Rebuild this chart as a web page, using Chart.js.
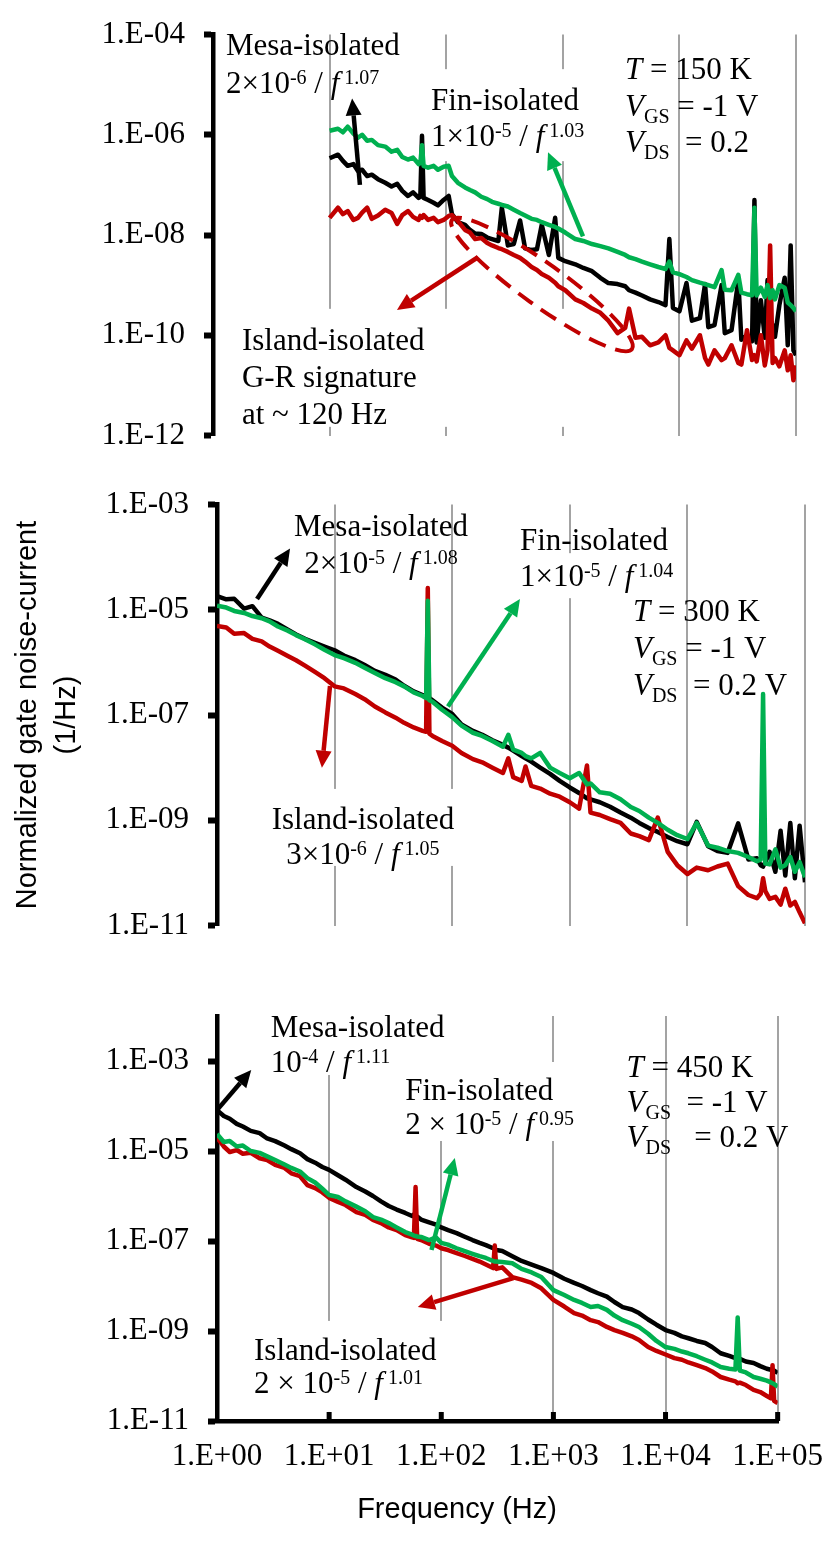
<!DOCTYPE html>
<html>
<head>
<meta charset="utf-8">
<title>Normalized gate noise-current spectra</title>
<script src="https://cdn.jsdelivr.net/npm/chart.js"></script>
<style>
  body { margin: 0; background: #fff; }
  #fig { position: relative; width: 840px; height: 1550px; }
  #fig canvas { position: absolute; left: 0; }
</style>
</head>
<body>
<div id="fig">
  <canvas id="k150" width="840" height="470" style="top:0"></canvas>
  <canvas id="k300" width="840" height="490" style="top:470px"></canvas>
  <canvas id="k450" width="840" height="590" style="top:960px"></canvas>
</div>
<script>
// tick values
const freqTicks = [1, 10, 100, 1000, 10000, 100000]
const yTicks150 = [1e-12, 1e-10, 1e-8, 1e-6, 1e-4]
const yTicks300 = [1e-11, 1e-9, 1e-7, 1e-5, 1e-3]
const yTicks450 = [1e-11, 1e-9, 1e-7, 1e-5, 1e-3]

// T = 150 K  (measured from 10 Hz)
const freq150 = [10, 11.8, 13, 14.3, 16, 17.5, 19, 21, 23, 26, 30, 34, 38, 42, 47, 52, 58, 60, 62, 64,
  70, 78, 85, 95, 105, 112, 126, 145, 160, 177, 200, 225, 247, 280, 300, 338, 380, 430, 475, 540,
  600, 660, 760, 860, 915, 1050, 1280, 1500, 1780, 2100, 2460, 2950, 3430, 3700, 4200, 4780, 5600, 6600, 7600, 8200,
  8800, 10000, 11500, 12800, 15000, 16600, 17700, 20000, 23000, 24500, 28000, 32000, 34000, 38000, 42000, 44000, 46000, 50000, 54000, 57000,
  60000, 63000, 66000, 72000, 80000, 85000, 90000, 95000, 100000]
const mesa150 = [3.4e-7, 4.0e-7, 3.0e-7, 2.4e-7, 2.6e-7, 1.9e-7, 2.0e-7, 1.5e-7, 1.6e-7, 1.3e-7,
  1.1e-7, 9.3e-8, 1.05e-7, 7.6e-8, 6.0e-8, 7.1e-8, 5.5e-8, 5.8e-8, 9.5e-7, 5.5e-8,
  5.0e-8, 4.4e-8, 3.9e-8, 5.0e-8, 6.0e-8, 2.6e-8, 1.8e-8, 1.6e-8, 1.26e-8, 1.07e-8,
  1.05e-8, 8.9e-9, 8.3e-9, 7.6e-9, 3.5e-8, 6.2e-9, 6.6e-9, 1.95e-8, 5.4e-9, 5.0e-9,
  5.2e-9, 1.6e-8, 4.0e-9, 2.2e-8, 3.5e-9, 3.0e-9, 2.6e-9, 2.2e-9, 1.9e-9, 1.4e-9,
  1.1e-9, 1.05e-9, 9.5e-10, 7.9e-10, 7.1e-10, 6.2e-10, 5.2e-10, 4.6e-10, 4.0e-10, 8.3e-9,
  3.5e-10, 3.0e-10, 1.1e-9, 1.95e-10, 2.2e-10, 1.05e-9, 1.45e-10, 1.6e-10, 1.0e-9, 1.1e-10,
  1.26e-10, 1.26e-9, 8.1e-11, 1.0e-10, 7.6e-11, 5.0e-8, 7.2e-11, 5.0e-10, 8.9e-11, 1.26e-9,
  1.0e-10, 1.6e-10, 9.3e-11, 4.0e-10, 1.4e-9, 6.3e-11, 6.2e-9, 5.0e-11, 4.0e-11]
const fin150 = [1.2e-6, 1.32e-6, 1.12e-6, 1.45e-6, 1.05e-6, 8.7e-7, 1.0e-6, 7.6e-7, 7.9e-7, 6.2e-7,
  5.8e-7, 4.6e-7, 5.0e-7, 3.6e-7, 3.2e-7, 3.5e-7, 2.6e-7, 2.75e-7, 6.2e-7, 2.4e-7,
  2.2e-7, 2.4e-7, 2.0e-7, 2.3e-7, 2.4e-7, 1.5e-7, 1.1e-7, 8.9e-8, 7.9e-8, 7.1e-8,
  5.8e-8, 5.2e-8, 4.6e-8, 4.2e-8, 4.0e-8, 3.7e-8, 3.2e-8, 2.75e-8, 2.45e-8, 2.1e-8,
  2.0e-8, 1.8e-8, 1.6e-8, 1.45e-8, 1.35e-8, 1.12e-8, 8.3e-9, 7.6e-9, 6.6e-9, 6.0e-9,
  5.4e-9, 4.6e-9, 4.0e-9, 3.6e-9, 3.3e-9, 2.95e-9, 2.6e-9, 2.3e-9, 2.1e-9, 2.95e-9,
  1.8e-9, 1.66e-9, 1.45e-9, 1.26e-9, 1.12e-9, 1.05e-9, 1.0e-9, 9.1e-10, 2.0e-9, 8.1e-10,
  7.9e-10, 1.6e-9, 7.1e-10, 6.6e-10, 6.3e-10, 3.5e-8, 6.2e-10, 8.9e-10, 5.8e-10, 1.0e-9,
  5.5e-10, 7.9e-10, 5.2e-10, 1.0e-9, 8.9e-10, 4.5e-10, 4.0e-10, 3.5e-10, 3.0e-10]
const island150 = [2.2e-8, 3.5e-8, 2.6e-8, 3.0e-8, 2.0e-8, 2.2e-8, 2.8e-8, 3.5e-8, 2.1e-8, 2.45e-8,
  3.2e-8, 2.75e-8, 1.66e-8, 2.5e-8, 3.0e-8, 2.3e-8, 2.0e-8, 2.4e-8, 2.2e-8, 2.5e-8,
  2.0e-8, 2.2e-8, 1.8e-8, 2.0e-8, 2.4e-8, 2.5e-8, 1.9e-8, 1.26e-8, 1.12e-8, 8.3e-9,
  8.7e-9, 6.9e-9, 6.2e-9, 5.5e-9, 5.2e-9, 4.6e-9, 4.0e-9, 3.5e-9, 2.95e-9, 2.3e-9,
  2.0e-9, 1.66e-9, 1.4e-9, 1.12e-9, 9.5e-10, 7.9e-10, 5.2e-10, 4.4e-10, 3.4e-10, 2.8e-10,
  1.95e-10, 1.1e-10, 1.4e-10, 3.4e-10, 8.9e-11, 9.3e-11, 6.3e-11, 7.2e-11, 1.0e-10, 5.6e-11,
  5.0e-11, 4.0e-11, 7.9e-11, 5.4e-11, 1.0e-10, 3.5e-11, 2.6e-11, 5.0e-11, 3.2e-11, 3.5e-11,
  6.3e-11, 2.8e-11, 2.6e-11, 1.26e-10, 3.2e-11, 4.0e-11, 3.0e-11, 1.0e-10, 2.5e-11, 5.0e-11,
  6.2e-9, 2.8e-11, 3.5e-11, 2.4e-11, 5.0e-11, 2.0e-11, 4.0e-11, 1.26e-11, 2.5e-11]

// T = 300 K
const freq300 = [1, 1.2, 1.4, 1.7, 2, 2.4, 2.8, 3.3, 4, 4.7, 5.6, 6.8, 8.2, 10, 12, 15, 18, 22, 27, 33,
  39, 47, 56, 60, 62, 64, 68, 82, 100, 120, 150, 180, 220, 270, 300, 330, 390, 420, 470, 560,
  680, 820, 1000, 1200, 1400, 1500, 1800, 2200, 2700, 3300, 3900, 4700, 5600, 6800, 8200, 10000, 12000, 15000, 18000, 22000,
  27000, 33000, 39000, 42000, 44000, 46000, 50000, 56000, 62000, 68000, 75000, 82000, 90000, 100000]
const mesa300 = [1.82e-5, 1.58e-5, 1.62e-5, 1.05e-5, 1.17e-5, 7.1e-6, 6.3e-6, 5.4e-6, 4.2e-6, 3.4e-6,
  2.8e-6, 2.35e-6, 2.0e-6, 1.7e-6, 1.35e-6, 1.1e-6, 8.9e-7, 6.9e-7, 5.8e-7, 4.7e-7,
  3.6e-7, 2.8e-7, 2.4e-7, 2.25e-7, 2.2e-7, 2.1e-7, 1.9e-7, 1.38e-7, 1.05e-7, 6.6e-8,
  5.0e-8, 4.2e-8, 3.3e-8, 2.7e-8, 2.4e-8, 2.1e-8, 1.66e-8, 1.5e-8, 1.3e-8, 1.0e-8,
  7.6e-9, 5.6e-9, 4.2e-9, 3.3e-9, 2.6e-9, 2.5e-9, 2.2e-9, 1.8e-9, 1.4e-9, 1.12e-9,
  8.9e-10, 7.1e-10, 6.0e-10, 4.8e-10, 4.0e-10, 3.5e-10, 9.3e-10, 3.2e-10, 2.6e-10, 2.4e-10,
  8.7e-10, 1.8e-10, 1.9e-10, 1.4e-10, 1.32e-10, 1.6e-10, 2.5e-10, 1.05e-10, 6.3e-10, 8.9e-11,
  8.9e-10, 7.9e-11, 7.9e-10, 6.6e-11]
const fin300 = [1.2e-5, 1.1e-5, 9.5e-6, 8.7e-6, 7.6e-6, 6.9e-6, 6.0e-6, 4.8e-6, 4.0e-6, 3.3e-6,
  2.75e-6, 2.2e-6, 1.74e-6, 1.38e-6, 1.2e-6, 9.8e-7, 7.9e-7, 6.3e-7, 5.0e-7, 4.2e-7,
  3.5e-7, 2.7e-7, 2.3e-7, 2.1e-7, 1.48e-5, 1.9e-7, 1.78e-7, 1.26e-7, 9.1e-8, 6.3e-8,
  4.6e-8, 4.0e-8, 3.2e-8, 2.5e-8, 4.2e-8, 2.2e-8, 1.9e-8, 1.66e-8, 1.5e-8, 1.9e-8,
  1.0e-8, 7.9e-9, 6.3e-9, 7.9e-9, 4.8e-9, 5.0e-9, 3.4e-9, 3.2e-9, 2.5e-9, 1.78e-9,
  1.5e-9, 1.12e-9, 8.9e-10, 6.6e-10, 5.2e-10, 4.4e-10, 8.9e-10, 3.3e-10, 3.0e-10, 2.6e-10,
  2.4e-10, 2.0e-10, 1.66e-10, 1.78e-10, 2.5e-7, 1.5e-10, 1.45e-10, 2.8e-10, 1.26e-10, 1.4e-10,
  2.0e-10, 1.05e-10, 1.6e-10, 8.3e-11]
const island300 = [4.9e-6, 4.6e-6, 3.5e-6, 3.6e-6, 2.8e-6, 2.5e-6, 2.0e-6, 1.66e-6, 1.32e-6, 1.1e-6,
  8.7e-7, 6.6e-7, 5.0e-7, 3.5e-7, 3.2e-7, 2.5e-7, 2.0e-7, 1.45e-7, 1.12e-7, 8.9e-8,
  7.1e-8, 5.8e-8, 5.0e-8, 4.8e-8, 2.6e-5, 4.4e-8, 4.0e-8, 3.2e-8, 2.6e-8, 1.9e-8,
  1.45e-8, 1.26e-8, 1.0e-8, 7.9e-9, 1.5e-8, 6.6e-9, 5.6e-9, 1.05e-8, 4.5e-9, 4.0e-9,
  3.2e-9, 2.8e-9, 2.2e-9, 1.66e-9, 1.1e-8, 1.4e-9, 1.26e-9, 1.05e-9, 8.9e-10, 5.6e-10,
  5.0e-10, 4.2e-10, 1.12e-9, 2.5e-10, 1.4e-10, 9.5e-11, 1.26e-10, 1.12e-10, 1.32e-10, 1.5e-10,
  5.6e-11, 3.8e-11, 3.3e-11, 4.0e-11, 7.9e-11, 4.5e-11, 3.2e-11, 3.5e-11, 2.5e-11, 5.0e-11,
  2.4e-11, 2.8e-11, 1.78e-11, 1.1e-11]

// T = 450 K
const freq450 = [1, 1.15, 1.3, 1.5, 1.7, 2, 2.4, 2.8, 3.3, 4, 4.6, 5.5, 6.4, 7.5, 8.7, 10, 12, 14, 17.5, 21,
  24.6, 29, 34, 40, 47.7, 55, 57, 59, 61, 66, 78, 90, 100, 115, 137, 160, 190, 220, 250, 290,
  300, 310, 350, 430, 520, 640, 780, 1000, 1250, 1530, 1800, 2150, 2500, 3000, 3500, 4150, 5000, 5800, 7000, 8300,
  10000, 12000, 14000, 16000, 19000, 22600, 26000, 31000, 37000, 42000, 44000, 46000, 52000, 61000, 70000, 80000, 87000, 90000, 93000, 100000]
const mesa450 = [8.1e-5, 6.0e-5, 5.2e-5, 4.0e-5, 3.5e-5, 2.8e-5, 2.5e-5, 1.9e-5, 1.66e-5, 1.32e-5,
  1.1e-5, 8.9e-6, 6.6e-6, 5.5e-6, 4.4e-6, 3.8e-6, 2.9e-6, 2.3e-6, 1.58e-6, 1.26e-6,
  1.0e-6, 7.6e-7, 6.0e-7, 5.0e-7, 4.2e-7, 3.6e-7, 3.9e-7, 3.4e-7, 3.5e-7, 3.0e-7,
  2.6e-7, 2.3e-7, 2.0e-7, 1.74e-7, 1.5e-7, 1.26e-7, 1.05e-7, 9.1e-8, 8.1e-8, 6.9e-8,
  6.6e-8, 6.3e-8, 6.0e-8, 4.6e-8, 3.6e-8, 3.0e-8, 2.5e-8, 1.95e-8, 1.45e-8, 1.17e-8,
  1.0e-8, 8.1e-9, 6.9e-9, 5.8e-9, 4.4e-9, 3.4e-9, 3.0e-9, 2.5e-9, 1.8e-9, 1.38e-9,
  1.05e-9, 9.1e-10, 7.6e-10, 6.9e-10, 6.0e-10, 5.4e-10, 4.4e-10, 3.2e-10, 2.8e-10, 2.5e-10,
  2.3e-10, 2.4e-10, 2.1e-10, 1.95e-10, 1.66e-10, 1.45e-10, 1.38e-10, 1.35e-10, 1.32e-10, 1.17e-10]
const fin450 = [2.4e-5, 1.58e-5, 1.66e-5, 1.26e-5, 1.32e-5, 1.0e-5, 9.1e-6, 7.6e-6, 6.3e-6, 5.0e-6,
  4.2e-6, 3.5e-6, 2.5e-6, 2.0e-6, 1.45e-6, 1.05e-6, 9.5e-7, 7.6e-7, 5.8e-7, 4.6e-7,
  3.4e-7, 3.0e-7, 2.5e-7, 2.0e-7, 1.58e-7, 1.38e-7, 1.32e-7, 1.29e-7, 1.26e-7, 1.23e-7,
  1.05e-7, 1.2e-7, 9.1e-8, 8.3e-8, 6.9e-8, 6.0e-8, 5.2e-8, 4.6e-8, 4.2e-8, 3.6e-8,
  3.5e-8, 3.5e-8, 3.4e-8, 3.2e-8, 2.4e-8, 2.0e-8, 1.58e-8, 8.1e-9, 6.3e-9, 4.9e-9,
  4.2e-9, 3.4e-9, 3.6e-9, 2.95e-9, 2.2e-9, 1.74e-9, 1.45e-9, 1.23e-9, 8.7e-10, 6.0e-10,
  4.4e-10, 4.0e-10, 3.5e-10, 3.2e-10, 2.75e-10, 2.3e-10, 2.0e-10, 1.58e-10, 1.45e-10, 1.4e-10,
  2.0e-9, 1.32e-10, 1.2e-10, 9.5e-11, 8.7e-11, 7.9e-11, 7.2e-11, 6.9e-11, 6.6e-11, 5.8e-11]
const island450 = [2.0e-5, 1.26e-5, 9.5e-6, 1.05e-5, 8.7e-6, 9.1e-6, 6.9e-6, 6.3e-6, 4.9e-6, 4.2e-6,
  3.2e-6, 2.75e-6, 1.74e-6, 1.5e-6, 1.2e-6, 9.1e-7, 7.4e-7, 6.3e-7, 4.4e-7, 3.8e-7,
  2.95e-7, 2.5e-7, 2.0e-7, 1.74e-7, 1.35e-7, 1.2e-7, 1.17e-7, 1.58e-6, 1.12e-7, 1.05e-7,
  8.7e-8, 7.9e-8, 6.9e-8, 6.3e-8, 5.4e-8, 4.7e-8, 4.0e-8, 3.5e-8, 3.0e-8, 2.5e-8,
  7.9e-8, 2.4e-8, 2.6e-8, 1.58e-8, 1.38e-8, 1.17e-8, 8.9e-9, 4.9e-9, 3.5e-9, 2.5e-9,
  2.2e-9, 1.74e-9, 1.58e-9, 1.23e-9, 1.05e-9, 9.1e-10, 7.6e-10, 6.3e-10, 4.4e-10, 3.6e-10,
  3.0e-10, 2.5e-10, 2.3e-10, 2.0e-10, 1.74e-10, 1.5e-10, 1.26e-10, 9.5e-11, 8.3e-11, 7.6e-11,
  6.9e-11, 7.1e-11, 6.3e-11, 4.9e-11, 4.4e-11, 3.6e-11, 3.2e-11, 1.74e-10, 2.8e-11, 2.5e-11]

const serif = '"Liberation Serif", "Times New Roman", serif'
const sans = '"Liberation Sans", Arial, sans-serif'
const black = '#000000', green = '#00b050', red = '#c00000'

const sci = v => {
  const e = Math.round(Math.log10(v))
  return '1.E' + (e < 0 ? '-' : '+') + String(Math.abs(e)).padStart(2, '0')
}

// ---- text / arrow annotations ----
const fontOf = k => {
  if (k === 'i') return 'italic 31px ' + serif
  if (k === 'sup' || k === 'sub') return '20px ' + serif
  return '31px ' + serif
}
const measure = (ctx, segs) => segs.reduce((w, [s, k]) => { ctx.font = fontOf(k); return w + ctx.measureText(s).width }, 0)

function place(chart, t) {
  const { ctx, scales: { x, y } } = chart
  const px = x.getPixelForValue(t.at[0]), py = y.getPixelForValue(t.at[1])
  const widths = t.lines.map(l => measure(ctx, l))
  const w = Math.max(...widths)
  return { px, py, widths, w, left: t.center ? px - w / 2 : px }
}

function arrow(ctx, x1, y1, x2, y2, color) {
  const a = Math.atan2(y2 - y1, x2 - x1), hl = 17, hw = 8
  const bx = x2 - hl * Math.cos(a), by = y2 - hl * Math.sin(a)
  ctx.strokeStyle = color
  ctx.fillStyle = color
  ctx.lineWidth = 4.5
  ctx.beginPath(); ctx.moveTo(x1, y1); ctx.lineTo(bx, by); ctx.stroke()
  ctx.beginPath()
  ctx.moveTo(x2, y2)
  ctx.lineTo(bx + hw * Math.sin(a), by - hw * Math.cos(a))
  ctx.lineTo(bx - hw * Math.sin(a), by + hw * Math.cos(a))
  ctx.closePath(); ctx.fill()
}

const notesPlugin = cfg => ({
  id: 'notes',
  beforeDatasetsDraw(chart) {
    const { ctx } = chart
    ctx.save()
    ctx.fillStyle = '#fff'
    cfg.texts.filter(t => t.cover).forEach(t => {
      const b = place(chart, t), c = t.cover
      const top = b.py - c[1], bottom = b.py + (t.lines.length - 1) * t.gap + c[3]
      ctx.fillRect(b.left - c[0], top, b.w + c[0] + c[2], bottom - top)
    })
    ctx.restore()
  },
  afterDatasetsDraw(chart) {
    const { ctx, chartArea, scales: { x, y } } = chart
    ctx.save()
    if (cfg.innerTicks) {
      ctx.strokeStyle = '#000'
      ctx.lineWidth = 5
      freqTicks.slice(1).forEach(v => {
        const px = x.getPixelForValue(v)
        ctx.beginPath(); ctx.moveTo(px, chartArea.bottom); ctx.lineTo(px, chartArea.bottom - 9); ctx.stroke()
      })
    }
    if (cfg.ellipse) {
      const e = cfg.ellipse
      const x1 = x.getPixelForValue(e.from[0]), y1 = y.getPixelForValue(e.from[1])
      const x2 = x.getPixelForValue(e.to[0]), y2 = y.getPixelForValue(e.to[1])
      ctx.strokeStyle = e.color
      ctx.lineWidth = 4
      ctx.setLineDash([18, 10])
      ctx.beginPath()
      ctx.ellipse((x1 + x2) / 2, (y1 + y2) / 2, Math.hypot(x2 - x1, y2 - y1) / 2, e.half, Math.atan2(y2 - y1, x2 - x1), 0, Math.PI * 2)
      ctx.stroke()
      ctx.setLineDash([])
    }
    cfg.arrows.forEach(a => arrow(ctx,
      x.getPixelForValue(a.from[0]), y.getPixelForValue(a.from[1]),
      x.getPixelForValue(a.to[0]), y.getPixelForValue(a.to[1]), a.color))
    ctx.fillStyle = '#000'
    ctx.textAlign = 'left'
    ctx.textBaseline = 'alphabetic'
    cfg.texts.forEach(t => {
      const b = place(chart, t)
      t.lines.forEach((l, i) => {
        let cx = t.center ? b.px - b.widths[i] / 2 : b.px
        const base = b.py + i * t.gap + 10
        l.forEach(([s, k]) => {
          ctx.font = fontOf(k)
          ctx.fillText(s, cx, base + (k === 'sup' ? -9 : k === 'sub' ? 7 : 0))
          cx += ctx.measureText(s).width
        })
      })
    })
    ctx.restore()
  }
})

const formula = (pre, exp, pw) => [[pre], [exp, 'sup'], [' / '], ['f', 'i'], [' ' + pw, 'sup']]
const conditions = (temp, vds, sp) => [
  [['T', 'i'], [' = ' + temp + ' K']],
  [['V', 'i'], ['GS', 'sub'], [sp + '= -1 V']],
  [['V', 'i'], ['DS', 'sub'], [sp + ' = ' + vds]]
]

const notes150 = {
  texts: [
    { at: [1.29, 6.2e-5], gap: 38, lines: [[['Mesa-isolated']], formula('2×10', '-6', '1.07')] },
    { at: [74, 4.9e-6], gap: 36, cover: [6, 31, 4, 25], lines: [[['Fin-isolated']], formula('1×10', '-5', '1.03')] },
    { at: [3416, 2.03e-5], gap: 36.5, lines: conditions(150, '0.2', ' ') },
    { at: [1.77, 8.1e-11], gap: 37, cover: [6, 31, 142, 13], lines: [[['Island-isolated']], [['G-R signature']], [['at ~ 120 Hz']]] }
  ],
  arrows: [
    { from: [18.2, 1.0e-7], to: [15.6, 5.3e-6], color: black },
    { from: [1490, 9.4e-9], to: [747, 4.5e-7], color: green },
    { from: [187, 3.6e-9], to: [37.8, 3.2e-10], color: red }
  ],
  ellipse: { from: [112, 2.0e-8], to: [3920, 5.3e-11], half: 21, color: red }
}
const notes300 = {
  texts: [
    { at: [24.8, 3.9e-4], center: true, gap: 37, lines: [[['Mesa-isolated']], formula('2×10', '-5', '1.08')] },
    { at: [377, 2.1e-4], gap: 36, cover: [6, -13, 2, 22], lines: [[['Fin-isolated']], formula('1×10', '-5', '1.04')] },
    { at: [3445, 9.4e-6], gap: 37, lines: conditions(300, '0.2 V', ' ') },
    { at: [17.4, 1.06e-9], center: true, gap: 35, cover: [8, 30, 6, 12], lines: [[['Island-isolated']], formula('3×10', '-6', '1.05')] }
  ],
  arrows: [
    { from: [2.19, 1.6e-5], to: [4.18, 1.46e-4], color: black },
    { from: [92, 1.45e-7], to: [377, 1.6e-5], color: green },
    { from: [9.14, 3.56e-7], to: [7.8, 1.0e-8], color: red }
  ]
}
const notes450 = {
  texts: [
    { at: [3.01, 5.7e-3], gap: 35, cover: [6, 11, 6, 13], lines: [[['Mesa-isolated']], formula('10', '-4', '1.11')] },
    { at: [47.7, 2.27e-4], gap: 34, cover: [6, 28, 5, 17], lines: [[['Fin-isolated']], formula('2 × 10', '-5', '0.95')] },
    { at: [4490, 7.4e-4], gap: 35, lines: conditions(450, '0.2 V', '  ') },
    { at: [2.14, 3.8e-10], gap: 33, cover: [5, 29, 7, 29], lines: [[['Island-isolated']], formula('2 × 10', '-5', '1.01')] }
  ],
  arrows: [
    { from: [1, 8.1e-5], to: [2.02, 6.3e-4], color: black },
    { from: [81.8, 6.3e-8], to: [132, 7.0e-6], color: green },
    { from: [440, 1.5e-8], to: [61.8, 3.4e-9], color: red }
  ],
  innerTicks: true
}

const series = (label, freq, vals, color) => ({
  label,
  data: freq.map((f, i) => ({ x: f, y: vals[i] })),
  borderColor: color,
  borderWidth: 4.5,
  pointRadius: 0,
  fill: false,
  tension: 0,
  borderJoinStyle: 'round'
})

// the x title sits left of centre in the original, the trailing blanks shift it
const xTitle = 'Frequency (Hz)' + '\u00a0'.repeat(10)

function panel(id, d) {
  const bottom = !!d.bottomAxis
  return new Chart(document.getElementById(id), {
    type: 'line',
    data: {
      datasets: [
        series('Fin-isolated', d.freq, d.fin, green),
        series('Island-isolated', d.freq, d.island, red),
        series('Mesa-isolated', d.freq, d.mesa, black)
      ]
    },
    options: {
      responsive: false,
      animation: false,
      events: [],
      layout: { padding: d.pad },
      plugins: { legend: { display: false }, tooltip: { enabled: false } },
      scales: {
        x: {
          type: 'logarithmic', min: 1, max: 1e5,
          afterBuildTicks: s => { s.ticks = freqTicks.map(v => ({ value: v })) },
          afterFit: s => { s.height = bottom ? 129 : 0 },
          grid: { color: c => (c.tick && c.tick.value === 1) ? 'rgba(0,0,0,0)' : '#a3a3a3', lineWidth: 2, drawTicks: false },
          border: { display: bottom, color: '#000', width: 4.5 },
          ticks: { display: bottom, callback: sci, color: '#000', padding: 17, maxRotation: 0, autoSkip: false,
                   font: { family: serif, size: 31, lineHeight: 1.2 } },
          title: { display: bottom, text: xTitle, color: '#000',
                   font: { family: sans, size: 29, lineHeight: 1.2 }, padding: { top: 0, bottom: 23 } }
        },
        y: {
          type: 'logarithmic', min: d.yMin, max: d.yMax,
          afterBuildTicks: s => { s.ticks = d.yTicks.map(v => ({ value: v })) },
          afterFit: s => { s.width = d.axisX },
          grid: { drawOnChartArea: false, drawTicks: true, tickLength: 9, tickWidth: 6, tickColor: '#000' },
          border: { color: '#000', width: 4.5 },
          ticks: { callback: sci, color: '#000', padding: 19, font: { family: serif, size: 31, lineHeight: 1 } },
          title: d.yTitle
            ? { display: true, text: d.yTitle, color: '#000', font: { family: sans, size: 29, lineHeight: 1.35 }, padding: { top: 8, bottom: 0 } }
            : { display: false }
        }
      }
    },
    plugins: [notesPlugin(d.notes)]
  })
}

panel('k150', { freq: freq150, mesa: mesa150, fin: fin150, island: island150,
  yMin: 1e-12, yMax: 1e-4, yTicks: yTicks150, axisX: 213,
  pad: { left: 0, right: 44, top: 25, bottom: 18 }, notes: notes150 })
panel('k300', { freq: freq300, mesa: mesa300, fin: fin300, island: island300,
  yMin: 1e-11, yMax: 1e-3, yTicks: yTicks300, axisX: 217,
  yTitle: ['Normalized gate noise-current', '(1/Hz)'],
  pad: { left: 0, right: 35, top: 19, bottom: 21 }, notes: notes300 })
panel('k450', { freq: freq450, mesa: mesa450, fin: fin450, island: island450,
  yMin: 1e-11, yMax: 1e-2, yTicks: yTicks450, axisX: 217, bottomAxis: true,
  pad: { left: 0, right: 48, top: 56, bottom: 0 }, notes: notes450 })
</script>
</body>
</html>
